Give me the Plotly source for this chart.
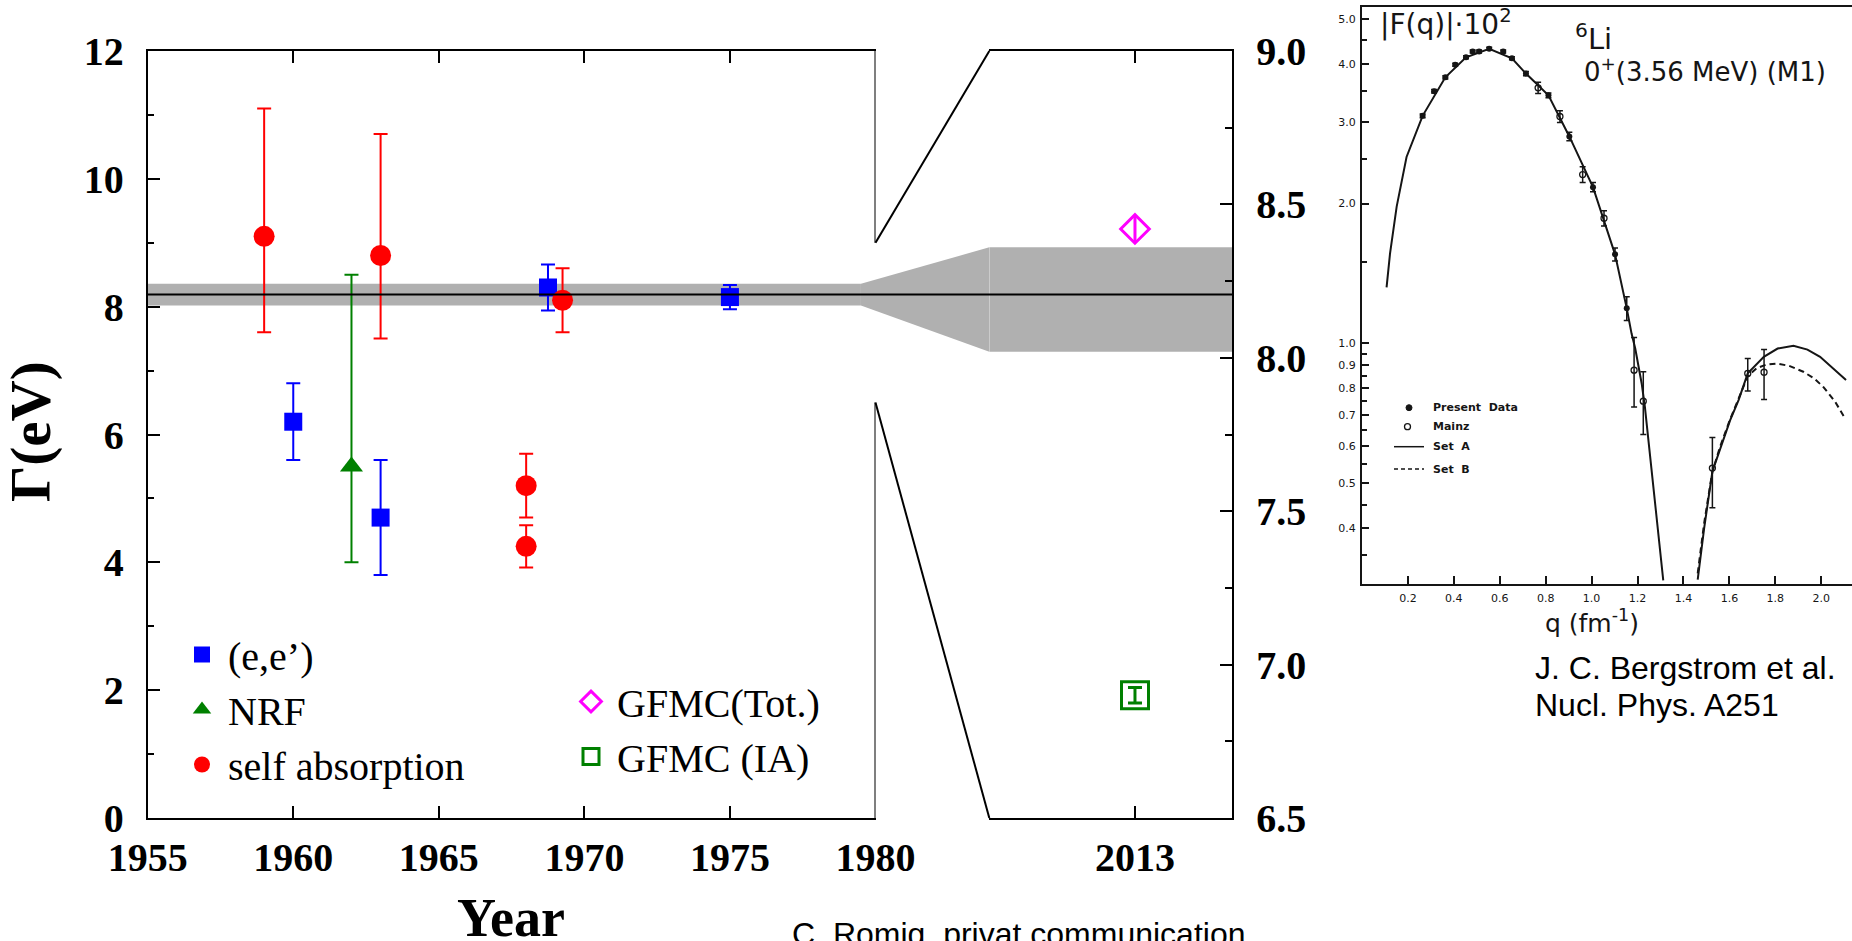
import math
import plotly.graph_objects as go

W, H = 1852, 941

# ---------------- data : left / right panels (Gamma [eV] vs year) ----------------
ee_year = [1960, 1963, 1968.75, 1975]
ee_val = [6.2, 4.7, 8.3, 8.15]
ee_err = [0.6, 0.9, 0.36, 0.19]

nrf_year = [1962]
nrf_val = [5.5]
nrf_err_plus = [3.0]
nrf_err_minus = [1.5]

sa_year = [1959, 1963, 1968, 1968, 1969.25]
sa_val = [9.1, 8.8, 5.2, 4.25, 8.1]
sa_err_plus = [2.0, 1.9, 0.5, 0.33, 0.5]
sa_err_minus = [1.5, 1.3, 0.5, 0.33, 0.5]

gfmc_tot_year = [2013]
gfmc_tot_val = [8.42]
gfmc_tot_err = [0.045]

gfmc_ia_year = [2013]
gfmc_ia_val = [6.9]
gfmc_ia_err = [0.025]

avg_val = 8.19
avg_err = 0.17

left_xticks = [1955, 1960, 1965, 1970, 1975, 1980]
right_xticks = [2013]
left_range_x = [1955, 1980]
left_range_y = [0, 12]
right_range_x = [2008, 2016.34]
right_range_y = [6.5, 9.0]
break_lo, break_hi = 6.5, 9.0
band_end_year = 1979.5

# ---------------- data : inset (Bergstrom et al., 6Li M1 form factor) ----------------
pres_q = [0.264, 0.314, 0.363, 0.406, 0.453, 0.482, 0.51, 0.554, 0.615, 0.653,
          0.714, 0.812, 0.903, 1.006, 1.102, 1.153]
pres_f = [3.09, 3.49, 3.74, 3.98, 4.13, 4.25, 4.25, 4.31, 4.25, 4.11,
          3.81, 3.42, 2.79, 2.17, 1.555, 1.19]
pres_err = [0.03, 0.03, 0.03, 0.03, 0.03, 0.03, 0.03, 0.03, 0.03, 0.03,
            0.04, 0.04, 0.06, 0.05, 0.05, 0.07]

mainz_q = [0.767, 0.862, 0.961, 1.054, 1.185, 1.225, 1.526, 1.68, 1.751]
mainz_f = [3.55, 3.08, 2.31, 1.86, 0.876, 0.751, 0.539, 0.862, 0.867]
mainz_err_plus = [0.1, 0.09, 0.09, 0.07, 0.154, 0.118, 0.088, 0.066, 0.103]
mainz_err_minus = [0.1, 0.09, 0.09, 0.07, 0.146, 0.114, 0.096, 0.072, 0.11]

setA_q1 = [0.107, 0.122, 0.151, 0.194, 0.264, 0.363, 0.453, 0.554, 0.653, 0.714,
           0.812, 0.903, 1.006, 1.102, 1.153, 1.174, 1.19, 1.218, 1.232, 1.272, 1.312]
setA_f1 = [1.32, 1.56, 1.97, 2.52, 3.09, 3.74, 4.13, 4.31, 4.11, 3.81,
           3.42, 2.79, 2.17, 1.555, 1.19, 1.05, 0.975, 0.82, 0.73, 0.475, 0.309]
setA_q2 = [1.462, 1.49, 1.526, 1.56, 1.603, 1.64, 1.68, 1.75, 1.81, 1.879,
           1.94, 1.995, 2.05, 2.108]
setA_f2 = [0.31, 0.40, 0.53, 0.59, 0.683, 0.755, 0.862, 0.936, 0.975, 0.988,
           0.97, 0.936, 0.883, 0.834]
setB_q2 = [1.462, 1.49, 1.526, 1.56, 1.60, 1.64, 1.68, 1.72, 1.76, 1.806,
           1.86, 1.922, 1.97, 2.009, 2.06, 2.104]
setB_f2 = [0.32, 0.41, 0.53, 0.60, 0.68, 0.76, 0.85, 0.885, 0.90, 0.905,
           0.895, 0.869, 0.84, 0.806, 0.75, 0.689]

inset_xticks = [0.2, 0.4, 0.6, 0.8, 1.0, 1.2, 1.4, 1.6, 1.8, 2.0]
inset_yticks = [0.4, 0.5, 0.6, 0.7, 0.8, 0.9, 1.0, 2.0, 3.0, 4.0, 5.0]
inset_yminor = [0.35, 0.45, 0.55, 0.65, 0.75, 0.85, 0.95, 1.5, 2.5, 3.5, 4.5]
inset_range_x = [0, 2.134]
inset_range_y = [0.303, 5.3]

# ---------------- layout geometry (pixels) ----------------
def px(x):
    return x / W


def py(y):
    return 1 - y / H


L_X0, L_X1 = 147.7, 875.5
R_X0, R_X1 = 989.3, 1232.3
P_YT, P_YB = 51, 818
S_X0, S_X1 = 1362, 1852
S_YT, S_YB = 7, 584.3

ldx = [px(L_X0), px(L_X1)]
rdx = [px(R_X0), px(R_X1)]
pdy = [py(P_YB), py(P_YT)]


def left_paper(xv, yv):
    fx = (xv - left_range_x[0]) / (left_range_x[1] - left_range_x[0])
    fy = (yv - left_range_y[0]) / (left_range_y[1] - left_range_y[0])
    return ldx[0] + fx * (ldx[1] - ldx[0]), pdy[0] + fy * (pdy[1] - pdy[0])


def right_paper(xv, yv):
    fx = (xv - right_range_x[0]) / (right_range_x[1] - right_range_x[0])
    fy = (yv - right_range_y[0]) / (right_range_y[1] - right_range_y[0])
    return rdx[0] + fx * (rdx[1] - rdx[0]), pdy[0] + fy * (pdy[1] - pdy[0])


SERIF = "Liberation Serif"
SANS = "Liberation Sans"
BLUE, RED, GREEN, MAG = "#0000ff", "#ff0000", "#008000", "#ff00ff"
GRAY = "#b0b0b0"
INK = "#151515"

fig = go.Figure()

# ---------------- left panel traces ----------------
fig.add_trace(go.Scatter(
    x=ee_year, y=ee_val, mode="markers", name="(e,e’)",
    marker=dict(symbol="square", size=18, color=BLUE),
    error_y=dict(type="data", array=ee_err, color=BLUE, thickness=2, width=7),
    xaxis="x", yaxis="y", legend="legend"))
fig.add_trace(go.Scatter(
    x=nrf_year, y=nrf_val, mode="markers", name="NRF",
    marker=dict(symbol="triangle-up", size=20, color=GREEN),
    error_y=dict(type="data", array=nrf_err_plus, arrayminus=nrf_err_minus,
                 color=GREEN, thickness=2, width=7),
    xaxis="x", yaxis="y", legend="legend"))
fig.add_trace(go.Scatter(
    x=sa_year, y=sa_val, mode="markers", name="self absorption",
    marker=dict(symbol="circle", size=21, color=RED),
    error_y=dict(type="data", array=sa_err_plus, arrayminus=sa_err_minus,
                 color=RED, thickness=2, width=7),
    xaxis="x", yaxis="y", legend="legend"))

# ---------------- right panel traces ----------------
fig.add_trace(go.Scatter(
    x=gfmc_tot_year, y=gfmc_tot_val, mode="markers", name="GFMC(Tot.)",
    marker=dict(symbol="diamond-open", size=22, color=MAG, line=dict(width=3, color=MAG)),
    error_y=dict(type="data", array=gfmc_tot_err, color=MAG, thickness=3, width=0),
    xaxis="x2", yaxis="y2", legend="legend2"))
fig.add_trace(go.Scatter(
    x=gfmc_ia_year, y=gfmc_ia_val, mode="markers", name="GFMC (IA)",
    marker=dict(symbol="square-open", size=27, color=GREEN, line=dict(width=3, color=GREEN)),
    error_y=dict(type="data", array=gfmc_ia_err, color=GREEN, thickness=3, width=7),
    xaxis="x2", yaxis="y2", legend="legend2"))

# ---------------- inset traces ----------------
fig.add_trace(go.Scatter(x=setA_q1, y=setA_f1, mode="lines", line=dict(color=INK, width=2),
                         xaxis="x4", yaxis="y4", showlegend=False))
fig.add_trace(go.Scatter(x=setA_q2, y=setA_f2, mode="lines", line=dict(color=INK, width=2),
                         xaxis="x4", yaxis="y4", showlegend=False))
fig.add_trace(go.Scatter(x=setB_q2, y=setB_f2, mode="lines", line=dict(color=INK, width=2, dash="6px,4px"),
                         xaxis="x4", yaxis="y4", showlegend=False))
fig.add_trace(go.Scatter(x=pres_q, y=pres_f, mode="markers",
                         marker=dict(symbol="circle", size=6, color=INK),
                         error_y=dict(type="data", array=pres_err, color=INK, thickness=1.5, width=3),
                         xaxis="x4", yaxis="y4", showlegend=False))
fig.add_trace(go.Scatter(x=mainz_q, y=mainz_f, mode="markers",
                         marker=dict(symbol="circle-open", size=6, color=INK, line=dict(width=1.3, color=INK)),
                         error_y=dict(type="data", array=mainz_err_plus, arrayminus=mainz_err_minus,
                                      color=INK, thickness=1.5, width=3),
                         xaxis="x4", yaxis="y4", showlegend=False))

# ---------------- shapes: band, average line, axis break ----------------
shapes = []
shapes.append(dict(type="rect", xref="x", yref="y", x0=left_range_x[0], x1=band_end_year,
                   y0=avg_val - avg_err, y1=avg_val + avg_err, fillcolor=GRAY,
                   line=dict(width=0), layer="below"))
shapes.append(dict(type="rect", xref="x2", yref="y2", x0=right_range_x[0], x1=right_range_x[1],
                   y0=avg_val - avg_err, y1=avg_val + avg_err, fillcolor=GRAY,
                   line=dict(width=0), layer="below"))
a = left_paper(band_end_year, avg_val + avg_err)
b = right_paper(right_range_x[0], avg_val + avg_err)
c = right_paper(right_range_x[0], avg_val - avg_err)
d = left_paper(band_end_year, avg_val - avg_err)
shapes.append(dict(type="path", xref="paper", yref="paper",
                   path=f"M {a[0]},{a[1]} L {b[0]},{b[1]} L {c[0]},{c[1]} L {d[0]},{d[1]} Z",
                   fillcolor=GRAY, line=dict(width=0), layer="below"))
# average line: one straight line through both panels
p1 = left_paper(left_range_x[0], avg_val)
p2 = right_paper(right_range_x[1], avg_val)
shapes.append(dict(type="line", xref="paper", yref="paper", x0=p1[0], y0=p1[1], x1=p2[0], y1=p1[1],
                   line=dict(color="black", width=2)))
# broken right border of the left panel
shapes.append(dict(type="line", xref="x", yref="y", x0=left_range_x[1], x1=left_range_x[1],
                   y0=break_hi, y1=left_range_y[1], line=dict(color="black", width=2)))
shapes.append(dict(type="line", xref="x", yref="y", x0=left_range_x[1], x1=left_range_x[1],
                   y0=left_range_y[0], y1=break_lo, line=dict(color="black", width=2)))
# zoom connectors
for v in (break_hi, break_lo):
    q1 = left_paper(left_range_x[1], v)
    q2 = right_paper(right_range_x[0], v)
    shapes.append(dict(type="line", xref="paper", yref="paper", x0=q1[0], y0=q1[1], x1=q2[0], y1=q2[1],
                       line=dict(color="black", width=2)))

# inset legend symbols
shapes.append(dict(type="circle", xref="paper", yref="paper", x0=px(1406), x1=px(1412),
                   y0=py(410.7), y1=py(404.7), fillcolor=INK, line=dict(color=INK, width=1)))
shapes.append(dict(type="circle", xref="paper", yref="paper", x0=px(1404.5), x1=px(1410.5),
                   y0=py(429.7), y1=py(423.7), fillcolor="white", line=dict(color=INK, width=1.3)))
shapes.append(dict(type="line", xref="paper", yref="paper", x0=px(1394), x1=px(1424),
                   y0=py(446.7), y1=py(446.7), line=dict(color=INK, width=1.5)))
shapes.append(dict(type="line", xref="paper", yref="paper", x0=px(1394), x1=px(1424),
                   y0=py(469), y1=py(469), line=dict(color=INK, width=1.5, dash="4px,3px")))

# ---------------- annotations ----------------
ann = []
ann.append(dict(text="Γ(eV)", x=px(31), y=py(432), xref="paper", yref="paper",
                xanchor="center", yanchor="middle", textangle=-90, showarrow=False,
                font=dict(family=SERIF, size=57, color="black", weight="bold")))
ann.append(dict(text="Year", x=px(511), y=py(918), xref="paper", yref="paper",
                xanchor="center", yanchor="middle", showarrow=False,
                font=dict(family=SERIF, size=54, color="black", weight="bold")))
ann.append(dict(text="C. Romig, privat communication", x=px(790), y=py(934), xref="paper", yref="paper",
                xanchor="left", yanchor="middle", showarrow=False,
                font=dict(family=SANS, size=32, color="black")))
ann.append(dict(text="J. C. Bergstrom et al.", x=px(1533), y=py(668), xref="paper", yref="paper",
                xanchor="left", yanchor="middle", showarrow=False,
                font=dict(family=SANS, size=32, color="black")))
ann.append(dict(text="Nucl. Phys. A251", x=px(1533), y=py(705), xref="paper", yref="paper",
                xanchor="left", yanchor="middle", showarrow=False,
                font=dict(family=SANS, size=32, color="black")))
ann.append(dict(text="|F(q)|·10<sup>2</sup>", x=px(1378), y=py(23), xref="paper", yref="paper",
                xanchor="left", yanchor="middle", showarrow=False,
                font=dict(family="DejaVu Sans", size=28, color=INK)))
ann.append(dict(text="<sup>6</sup>Li", x=px(1573), y=py(37), xref="paper", yref="paper",
                xanchor="left", yanchor="middle", showarrow=False,
                font=dict(family="DejaVu Sans", size=29, color=INK)))
ann.append(dict(text="0<sup>+</sup>(3.56 MeV) (M1)", x=px(1582), y=py(70), xref="paper", yref="paper",
                xanchor="left", yanchor="middle", showarrow=False,
                font=dict(family="DejaVu Sans", size=26, color=INK)))
ann.append(dict(text="q (fm<sup>-1</sup>)", x=px(1592), y=py(621), xref="paper", yref="paper",
                xanchor="center", yanchor="middle", showarrow=False,
                font=dict(family="DejaVu Sans", size=25, color=INK)))
for label, yy in (("Present  Data", 407.7), ("Mainz", 426.7), ("Set  A", 446.7), ("Set  B", 469)):
    ann.append(dict(text=label, x=px(1431), y=py(yy), xref="paper", yref="paper",
                    xanchor="left", yanchor="middle", showarrow=False,
                    font=dict(family="DejaVu Sans", size=11, color=INK, weight="bold")))

tickfont = dict(family=SERIF, size=40, color="black", weight="bold")
common = dict(showgrid=False, zeroline=False, showline=True, linecolor="black", linewidth=2,
              ticks="inside", tickcolor="black", tickwidth=2, ticklen=12, automargin=False)

fig.update_layout(
    template="none",
    width=W, height=H, autosize=False,
    margin=dict(l=0, r=0, t=0, b=0, pad=0),
    paper_bgcolor="white", plot_bgcolor="rgba(0,0,0,0)",
    shapes=shapes, annotations=ann,
    xaxis=dict(domain=ldx, range=left_range_x, tickvals=left_xticks,
               tickfont=tickfont, mirror="ticks", anchor="y", ticklabelstandoff=3, **common),
    yaxis=dict(domain=pdy, range=left_range_y, tickvals=[0, 2, 4, 6, 8, 10, 12],
               tickfont=tickfont, mirror=False, anchor="x", ticklabelstandoff=14,
               minor=dict(tickvals=[1, 3, 5, 7, 9, 11], ticks="inside", ticklen=6,
                          tickwidth=2, tickcolor="black", showgrid=False), **common),
    yaxis3=dict(overlaying="y", side="right", anchor="x", range=left_range_y,
                tickvals=[0, 2, 4, 6, 10, 12], showticklabels=False, showgrid=False,
                zeroline=False, showline=False, ticks="inside", ticklen=12, tickwidth=2,
                tickcolor="black", automargin=False,
                minor=dict(tickvals=[1, 3, 5, 9, 11], ticks="inside", ticklen=6,
                           tickwidth=2, tickcolor="black", showgrid=False)),
    xaxis2=dict(domain=rdx, range=right_range_x, tickvals=right_xticks,
                tickfont=tickfont, mirror="ticks", anchor="y2", ticklabelstandoff=3, **common),
    yaxis2=dict(domain=pdy, range=right_range_y, tickvals=[6.5, 7.0, 7.5, 8.0, 8.5, 9.0],
                tickformat=".1f", tickfont=tickfont, side="right", anchor="x2", mirror=False,
                ticklabelstandoff=14,
                minor=dict(tickvals=[6.75, 7.25, 7.75, 8.25, 8.75], ticks="inside", ticklen=7,
                           tickwidth=2, tickcolor="black", showgrid=False), **common),
    xaxis4=dict(domain=[px(S_X0), px(S_X1)], range=inset_range_x, tickvals=inset_xticks,
                ticktext=[f"{v:.1f}" for v in inset_xticks], anchor="y4",
                showgrid=False, zeroline=False, showline=True, linecolor=INK, linewidth=2,
                mirror=True, ticks="inside", ticklen=8, tickwidth=2, tickcolor=INK, automargin=False,
                tickfont=dict(family="DejaVu Sans", size=11, color=INK), ticklabelstandoff=2),
    yaxis4=dict(domain=[py(S_YB), py(S_YT)], type="log",
                range=[math.log10(inset_range_y[0]), math.log10(inset_range_y[1])],
                tickvals=inset_yticks, ticktext=[f"{v:.1f}" for v in inset_yticks], anchor="x4",
                showgrid=False, zeroline=False, showline=True, linecolor=INK, linewidth=2,
                mirror=False, ticks="inside", ticklen=7, tickwidth=2, tickcolor=INK, automargin=False,
                tickfont=dict(family="DejaVu Sans", size=11, color=INK), ticklabelstandoff=2,
                minor=dict(tickvals=inset_yminor, ticks="inside", ticklen=5, tickwidth=1.5,
                           tickcolor=INK, showgrid=False)),
    legend=dict(x=px(176), y=py(622), xanchor="left", yanchor="top",
                font=dict(family=SERIF, size=40, color="black"), bgcolor="rgba(0,0,0,0)",
                itemwidth=42, tracegroupgap=0, borderwidth=0),
    legend2=dict(x=px(565), y=py(669), xanchor="left", yanchor="top",
                 font=dict(family=SERIF, size=40, color="black"), bgcolor="rgba(0,0,0,0)",
                 itemwidth=42, tracegroupgap=0, borderwidth=0),
)

fig.write_html("out.html", config={"displayModeBar": False},
               post_script="document.body.style.margin='0';document.body.style.overflow='hidden';")
